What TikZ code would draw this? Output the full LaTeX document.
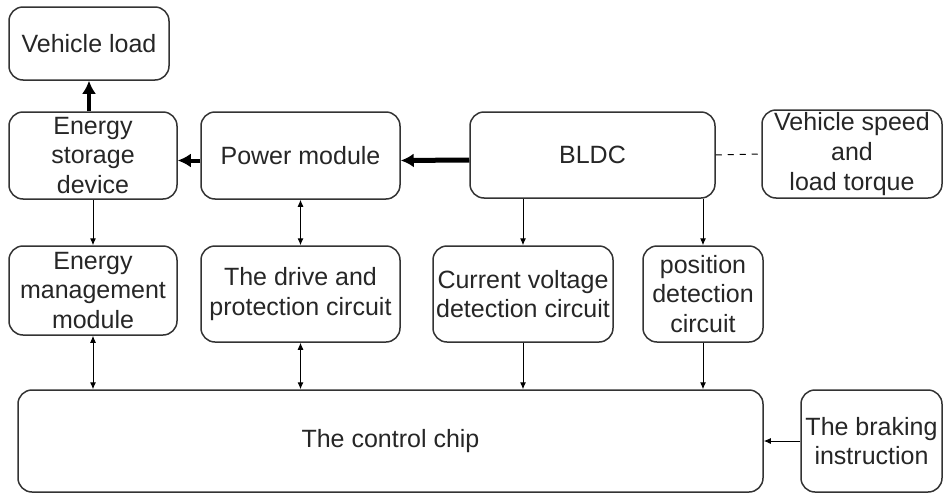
\documentclass[tikz,border=0pt]{standalone}
\usepackage{fontspec}
\setmainfont{Liberation Sans}
\usepackage{tikz}
\usetikzlibrary{arrows.meta, calc}

\begin{document}
\begin{tikzpicture}[x=0.5pt, y=-0.5pt,
  box/.style={draw=black!80, line width=0.75pt, rounded corners=7pt, inner sep=0pt,
    align=center, font=\fontsize{12.5}{14.8}\selectfont, text=black!85},
  thin/.style={line width=0.5pt, -{Latex[length=3.5pt,width=3pt]}},
  both/.style={line width=0.5pt, {Latex[length=3.5pt,width=3pt]}-{Latex[length=3.5pt,width=3pt]}},
  fat/.style={line width=2pt, -{Latex[length=6.5pt,width=7pt]}}]
\useasboundingbox (0,0) rectangle (949,493);

%---top row---

\node[box, minimum width=80pt, minimum height=36.5pt] (load) at (89,43.5) {Vehicle load};
\node[box, minimum width=84pt, minimum height=43.5pt] (store) at (93,155.5) {Energy\\storage\\device};
\node[box, minimum width=99.5pt, minimum height=43.5pt] (power) at (300.5,155.5) {Power module};
\node[box, minimum width=122.5pt, minimum height=43pt] (bldc) at (592.5,155) {BLDC};
\node[box, minimum width=90pt, minimum height=44pt] (speed) at (852,154) {Vehicle speed\\and\\load torque};

%---middle row---

\node[box, minimum width=84pt, minimum height=44.5pt] (mgmt) at (93,290.5) {Energy\\management\\module};
\node[box, minimum width=99.5pt, minimum height=48pt] (drive) at (300.5,294) {The drive and\\protection circuit};
\node[box, minimum width=90pt, minimum height=48pt] (cvd) at (523,294) {Current voltage\\detection circuit};
\node[box, minimum width=60pt, minimum height=48pt] (pos) at (703,294) {position\\detection\\circuit};

%---bottom row---

\node[box, minimum width=372.5pt, minimum height=51pt] (chip) at (390.5,441) {The control chip};
\node[box, minimum width=70.5pt, minimum height=51pt] (brake) at (871.5,441) {The braking\\instruction};

%---connectors---

\draw[fat] (store.north -| load.south) -- (load.south);
\draw[fat] ([yshift=-2.5pt]power.west) -- ([yshift=-2.5pt]store.east);
\draw[fat, line width=2.5pt] ([yshift=-2.5pt]bldc.west) -- ([yshift=-2.5pt]power.east);
\draw[dashed, line width=0.5pt] (bldc.east) -- (speed.west);

\draw[thin] (store.south) -- (mgmt.north);
\draw[both] (power.south) -- (drive.north);
\draw[thin] (bldc.south -| cvd.north) -- (cvd.north);
\draw[thin] (bldc.south -| pos.north) -- (pos.north);

\draw[both] (mgmt.south) -- (mgmt.south |- chip.north);
\draw[both] (drive.south) -- (drive.south |- chip.north);
\draw[thin] (cvd.south) -- (cvd.south |- chip.north);
\draw[thin] (pos.south) -- (pos.south |- chip.north);
\draw[thin] (brake.west) -- (brake.west -| chip.east);

\end{tikzpicture}
\end{document}
